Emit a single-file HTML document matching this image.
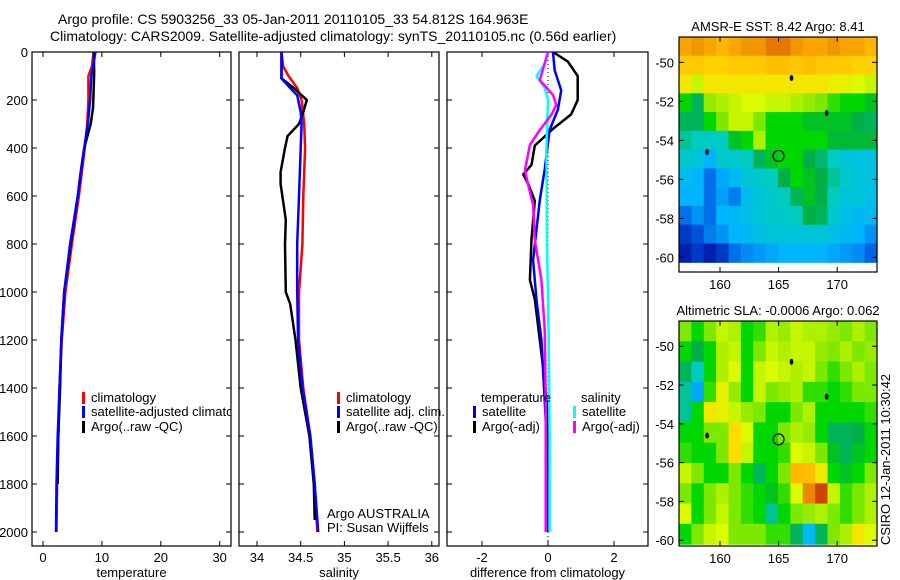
<!DOCTYPE html>
<html><head><meta charset="utf-8"><style>
body{margin:0;background:#fff}
svg{display:block;font-family:"Liberation Sans",sans-serif}
text{font-size:13px;fill:#000}
</style></head><body>
<svg id="fig" width="900" height="580" viewBox="0 0 900 580" xmlns="http://www.w3.org/2000/svg">
<defs>
<clipPath id="c1"><rect x="32" y="52" width="199" height="494"/></clipPath>
<clipPath id="c2"><rect x="239" y="52" width="200" height="494"/></clipPath>
<clipPath id="c3"><rect x="447" y="52" width="201" height="494"/></clipPath>
</defs>
<text x="58" y="24" style="font-size:14px">Argo profile: CS 5903256_33 05-Jan-2011 20110105_33 54.812S 164.963E</text>
<text x="50" y="41" style="font-size:14px">Climatology: CARS2009. Satellite-adjusted climatology: synTS_20110105.nc (0.56d earlier)</text>
<g id="g"></g>
<text transform="translate(890,545) rotate(-90)" style="font-size:13px">CSIRO 12-Jan-2011 10:30:42</text>
</svg>
<script>
// ---- profile data ----
const tClimD=[0,60,100,200,300,400,600,800,1000,1200,1400,1600,1800,2000];
const tClimV=[8.6,8.3,7.7,7.7,7.5,7.1,6.1,4.9,3.8,3.2,2.8,2.6,2.4,2.3];
const tSatD=[0,60,100,200,300,400,600,800,1000,1200,1400,1600,1800,2000];
const tSatV=[8.9,8.5,8.2,8.0,7.6,7.0,5.9,4.6,3.6,3.1,2.8,2.5,2.3,2.2];
const tArgoD=[0,80,150,230,300,400,500,600,800,1000,1200,1400,1600,1800];
const tArgoV=[8.6,8.7,8.6,8.5,8.1,7.0,6.4,5.9,4.7,3.6,3.1,2.9,2.6,2.5];
const sClimD=[0,60,100,150,200,300,400,600,800,1000,1200,1400,1600,1800,2000];
const sClimV=[34.28,34.3,34.36,34.46,34.51,34.54,34.55,34.53,34.52,34.48,34.48,34.53,34.61,34.66,34.69];
const sSatD=[0,110,150,180,250,300,400,600,800,1000,1200,1400,1600,1800,2000];
const sSatV=[34.28,34.28,34.38,34.46,34.5,34.51,34.5,34.48,34.46,34.46,34.47,34.52,34.61,34.66,34.7];
const sArgoD=[0,110,150,200,250,300,350,400,500,550,650,700,800,1000,1050,1200,1400,1600,1800,1950];
const sArgoV=[34.28,34.28,34.42,34.57,34.53,34.48,34.35,34.32,34.27,34.27,34.31,34.33,34.32,34.33,34.38,34.44,34.5,34.6,34.65,34.66];
const dTArgoD=[0,40,100,200,260,320,390,470,510,550,620,780,950,1030,1200,1370,1530,2000];
const dTArgoV=[0.15,0.6,0.9,0.9,0.7,0.15,-0.4,-0.5,-0.75,-0.6,-0.4,-0.5,-0.55,-0.4,-0.25,-0.1,0,0];
const dTSatD=[0,75,160,240,325,490,617,867,1033,1200,1533,2000];
const dTSatV=[0.15,0.2,0.4,0.3,0.05,-0.1,-0.25,-0.45,-0.35,-0.2,-0.07,0];
const dSSatD=[0,50,100,150,200,400,800,1200,1600,2000];
const dSSatV=[0,-0.1,-0.35,-0.1,0,-0.05,-0.03,0.02,0.05,0.05];
const dSArgoD=[0,117,179,221,262,325,387,492,554,637,783,950,1158,1450,2000];
const dSArgoV=[0,-0.25,0.15,0.25,0.1,-0.25,-0.55,-0.7,-0.6,-0.45,-0.4,-0.2,-0.1,-0.07,-0.07];
const depthTicks=[0,200,400,600,800,1000,1200,1400,1600,1800,2000];
const tTicks=[0,10,20,30];
const sTicks=[34,34.5,35,35.5,36];
const sTickLabels=["34","34.5","35","35.5","36"];
const dTicks=[-2,0,2];
// ---- map data (colormap fraction) ----
const sstGrid=[
[.78,.8,.78,.76,.78,.8,.8,.84,.84,.8,.78,.78,.8,.78,.78,.76],
[.72,.72,.7,.7,.72,.72,.72,.74,.74,.72,.74,.72,.72,.72,.7,.7],
[.66,.6,.66,.66,.66,.66,.66,.66,.66,.66,.66,.66,.64,.64,.62,.6],
[.5,.45,.56,.58,.6,.62,.62,.6,.6,.58,.56,.55,.52,.5,.5,.48],
[.45,.45,.5,.55,.6,.6,.55,.5,.5,.5,.48,.48,.48,.48,.46,.45],
[.42,.4,.38,.4,.48,.5,.58,.5,.5,.5,.5,.5,.47,.47,.47,.47],
[.38,.36,.3,.38,.38,.4,.45,.48,.5,.5,.46,.44,.4,.36,.35,.35],
[.33,.3,.2,.28,.32,.36,.38,.4,.46,.5,.48,.46,.42,.38,.36,.35],
[.3,.3,.2,.27,.22,.33,.36,.38,.4,.45,.48,.46,.4,.36,.36,.34],
[.2,.25,.2,.3,.32,.34,.36,.38,.38,.4,.46,.45,.38,.34,.32,.32],
[.1,.15,.22,.25,.3,.32,.34,.36,.36,.36,.36,.36,.34,.32,.3,.25],
[.05,.1,.05,.1,.2,.24,.26,.28,.3,.3,.3,.3,.28,.26,.24,.18]];
const slaGrid=[
[.55,.5,.55,.6,.58,.5,.52,.58,.56,.6,.58,.58,.56,.55,.58,.55],
[.5,.46,.5,.58,.6,.5,.55,.6,.58,.6,.6,.56,.55,.58,.55,.56],
[.45,.4,.5,.58,.62,.5,.6,.62,.6,.58,.6,.55,.52,.55,.58,.55],
[.42,.28,.52,.64,.56,.5,.6,.55,.56,.58,.52,.52,.5,.52,.55,.55],
[.42,.5,.66,.64,.6,.56,.55,.5,.5,.55,.58,.5,.5,.5,.5,.52],
[.5,.5,.55,.55,.68,.62,.5,.5,.55,.58,.56,.5,.45,.45,.46,.5],
[.52,.5,.5,.55,.68,.6,.5,.5,.52,.62,.6,.55,.48,.45,.48,.5],
[.6,.55,.5,.5,.55,.5,.45,.5,.55,.75,.74,.66,.5,.48,.5,.55],
[.55,.5,.55,.58,.55,.52,.5,.48,.52,.62,.82,.9,.6,.52,.55,.58],
[.62,.5,.55,.6,.55,.52,.5,.42,.5,.55,.56,.58,.55,.52,.55,.58],
[.5,.55,.6,.62,.55,.55,.55,.52,.52,.45,.32,.45,.55,.58,.66,.62]];
const latTicks=[-50,-52,-54,-56,-58,-60];
const lonTicks=[160,165,170];
const islands=[[166.1,-50.8],[169.1,-52.6],[158.9,-54.6]];
const argoPos=[165,-54.8];

const NS="http://www.w3.org/2000/svg";
const G=document.getElementById('g');
function mk(tag,at,parent){const e=document.createElementNS(NS,tag);for(const k in at)e.setAttribute(k,at[k]);(parent||G).appendChild(e);return e;}
const yD=d=>52+d*0.24;
const xT=v=>43+v*5.89;
const xS=v=>257+(v-34)*87.4;
const xDf=v=>548+v*33;

function panel(name,x0,x1,xf,ticks,labels,xlabel,clip,showDepth){
  const b=mk('rect',{x:x0,y:52,width:x1-x0,height:494,fill:'none',stroke:'#000','stroke-width':1.2});
  
  
  depthTicks.forEach(d=>{
    const y=yD(d);
    const t=mk('path',{d:`M${x0},${y}h5M${x1},${y}h-5`,stroke:'#000'});
    
    
    if(showDepth){const l=mk('text',{x:28,y:y+5,'text-anchor':'end'});l.textContent=d;
      
      }
  });
  ticks.forEach((v,i)=>{
    const x=xf(v);
    const t=mk('path',{d:`M${x},546v-5M${x},52v5`,stroke:'#000'});
    
    
    const l=mk('text',{x:x,y:562,'text-anchor':'middle'});l.textContent=labels[i];
    
    
  });
  const xl=mk('text',{x:(x0+x1)/2,y:577,'text-anchor':'middle'});xl.textContent=xlabel;
  
  
}
function line(D,V,xf,col,clip,name){
  const p=mk('polyline',{points:D.map((d,i)=>xf(V[i]).toFixed(1)+','+yD(d).toFixed(1)).join(' '),fill:'none',stroke:col,'stroke-width':2.5,'clip-path':`url(#${clip})`});
  
  
}
function legend(x,y,col,txt,clip){
  const r=mk('rect',{x:x,y:y-10,width:3,height:12,fill:col});
  
  
  const t=mk('text',{x:x+9,y:y,'clip-path':clip?`url(#${clip})`:''});t.textContent=txt;
  
  
}
panel('temperature-panel',32,231,xT,tTicks,tTicks.map(String),'temperature','c1',true);
line(tClimD,tClimV,xT,'#f00','c1','temp-climatology-line');
line(tArgoD,tArgoV,xT,'#000','c1','temp-argo-line');
line(tSatD,tSatV,xT,'#00f','c1','temp-satellite-line');
legend(82,402,'#f00','climatology','c1');
legend(82,416,'#00f','satellite-adjusted climatology','c1');
legend(82,431,'#000','Argo(..raw -QC)','c1');

panel('salinity-panel',239,439,xS,sTicks,sTickLabels,'salinity','c2',false);
line(sClimD,sClimV,xS,'#f00','c2','sal-climatology-line');
line(sArgoD,sArgoV,xS,'#000','c2','sal-argo-line');
line(sSatD,sSatV,xS,'#00f','c2','sal-satellite-line');
legend(337,402,'#f00','climatology');
legend(337,416,'#00f','satellite adj. clim.');
legend(337,431,'#000','Argo(..raw -QC)');
let t1=mk('text',{x:327,y:518});t1.textContent='Argo AUSTRALIA';


let t2=mk('text',{x:327,y:532});t2.textContent='PI: Susan Wijffels';



panel('difference-panel',447,648,xDf,dTicks,dTicks.map(String),'difference from climatology','c3',false);
const z=mk('line',{x1:xDf(0),x2:xDf(0),y1:52,y2:546,stroke:'#000','stroke-dasharray':'1,3'});


line(dTArgoD,dTArgoV,xDf,'#000','c3','temp-diff-argo-line');
line(dTSatD,dTSatV,xDf,'#00f','c3','temp-diff-satellite-line');
line(dSSatD,dSSatV,xDf,'#0ff','c3','sal-diff-satellite-line');
line(dSArgoD,dSArgoV,xDf,'#f0f','c3','sal-diff-argo-line');
let lt=mk('text',{x:481,y:402});lt.textContent='temperature';


let ls=mk('text',{x:581,y:402});ls.textContent='salinity';


legend(473,416,'#00f','satellite');
legend(473,431,'#000','Argo(-adj)');
legend(573,416,'#0ff','satellite');
legend(573,431,'#f0f','Argo(-adj)');

// ---- maps ----
const cmStops=[[0,[0,10,150]],[0.15,[0,80,220]],[0.3,[0,180,255]],[0.4,[0,205,190]],[0.46,[0,175,70]],[0.5,[0,215,0]],[0.56,[150,235,0]],[0.62,[220,250,0]],[0.68,[255,220,0]],[0.76,[255,180,0]],[0.84,[230,120,0]],[0.92,[200,50,0]],[1,[160,0,0]]];
function cmap(v){
  for(let i=1;i<cmStops.length;i++){
    if(v<=cmStops[i][0]){const a=cmStops[i-1],b=cmStops[i];const f=(v-a[0])/(b[0]-a[0]);
      const c=a[1].map((x,k)=>Math.round(x+(b[1][k]-x)*f));return `rgb(${c})`;}
  }
  return 'rgb(160,0,0)';
}
function map(name,grid,top,bottom,latTop,pxPerLat,dataBottomLat,title){
  const x0=679,x1=877;
  const lonL=156.5,lonR=173.4;
  const xL=lon=>x0+(lon-lonL)/(lonR-lonL)*(x1-x0);
  const yL=lat=>top+(latTop-lat)*pxPerLat;
  const rows=grid.length,cols=grid[0].length;
  const yb=yL(dataBottomLat);
  const cw=(x1-x0)/cols,ch=(yb-top)/rows;
  grid.forEach((row,i)=>row.forEach((v,j)=>{
    const c=mk('rect',{x:(x0+j*cw).toFixed(2),y:(top+i*ch).toFixed(2),width:(cw+0.6).toFixed(2),height:(ch+0.6).toFixed(2),fill:cmap(v)});
    
    
  }));
  const f=mk('rect',{x:x0,y:top,width:x1-x0,height:bottom-top,fill:'none',stroke:'#000','stroke-width':1.2});
  
  
  latTicks.forEach(l=>{const y=yL(l);
    const t=mk('path',{d:`M${x0},${y}h5M${x1},${y}h-5`,stroke:'#000'});
    
    
    const tx=mk('text',{x:674,y:y+5,'text-anchor':'end'});tx.textContent=l;
    
    });
  lonTicks.forEach(l=>{const x=xL(l);
    const t=mk('path',{d:`M${x},${bottom}v-5M${x},${top}v5`,stroke:'#000'});
    
    
    const tx=mk('text',{x:x,y:bottom+17,'text-anchor':'middle'});tx.textContent=l;
    
    });
  islands.forEach(p=>{const e=mk('ellipse',{cx:xL(p[0]),cy:yL(p[1]),rx:1.8,ry:3,fill:'#000'});
    
    });
  const c=mk('circle',{cx:xL(argoPos[0]),cy:yL(argoPos[1]),r:5.5,fill:'none',stroke:'#000','stroke-width':1.2});
  
  
  const tt=mk('text',{x:(x0+x1)/2,y:top-6,'text-anchor':'middle'});tt.textContent=title;
  
  
}
map('sst-map',sstGrid,37,272,-48.7,19.5,-60.25,'AMSR-E SST: 8.42 Argo: 8.41');
map('sla-map',slaGrid,321,546,-48.7,19.4,-60.2,'Altimetric SLA: -0.0006 Argo: 0.062');
</script>
</body></html>
